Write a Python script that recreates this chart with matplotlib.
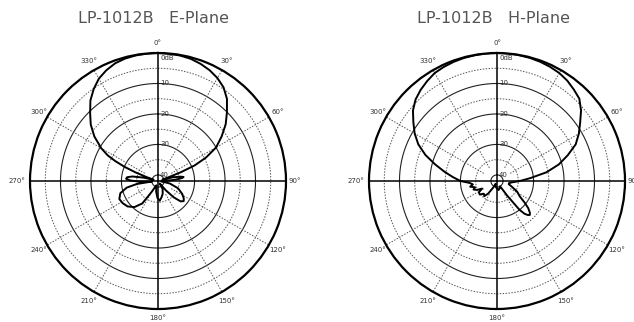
import numpy as np
import matplotlib
matplotlib.use("Agg")
import matplotlib.pyplot as plt
import matplotlib.transforms as mtransforms

# Radiation patterns (angle in degrees clockwise from boresight, relative level in dB)
e_theta = [0, 5, 10, 15, 20, 25, 30, 35, 40, 45, 50, 55, 60, 64, 67, 69, 71, 73,
           76, 79, 81, 83, 86, 90, 95, 102, 110, 118, 124, 128, 132, 136, 140, 145,
           150, 160, 168, 175, 182, 190, 200, 205, 210, 215, 222, 230, 238, 245,
           252, 258, 262, 265, 268, 271, 274, 277, 280, 283, 286, 289, 291, 293,
           295, 297, 300, 305, 310, 315, 320, 325, 330, 335, 340, 345, 350, 355, 360]
e_db = [0.0, -0.1, -0.2, -0.5, -1.1, -1.9, -3.0, -4.5, -6.8, -10.0, -13.0, -16.5,
        -20.0, -24.5, -29.0, -34.0, -39.0, -40.5,
        -37.0, -34.5, -33.5, -34.0, -36.5, -40.0, -41.0, -38.0, -35.0, -33.0, -31.8,
        -31.3, -32.0, -34.5, -38.0, -41.0,
        -39.0, -37.5, -36.5, -35.5, -36.5, -38.5, -40.5, -40.0, -38.0, -33.0, -30.5,
        -29.0, -28.3, -28.0,
        -29.0, -31.5, -35.0, -40.0, -36.0, -33.0, -31.5, -31.8, -33.5, -37.0, -40.5,
        -38.0, -34.0, -30.0,
        -26.5, -23.5, -20.5, -16.5, -13.2, -10.5, -7.5, -5.2, -3.2, -1.9, -0.9, -0.4,
        -0.15, -0.05, 0.0]

h_theta = [0, 5, 10, 15, 20, 25, 30, 35, 40, 45, 50, 55, 60, 65, 70, 75, 80, 85,
           90, 95, 100, 105, 111, 118, 124, 128, 131, 134, 136, 138, 140, 142, 145,
           150, 160, 170, 180, 190, 200, 205, 210, 215, 220, 226, 232, 238, 243,
           246, 250, 254, 258, 262, 266, 270, 275, 280, 285, 290, 295, 300, 305,
           310, 315, 320, 325, 330, 335, 340, 345, 350, 355, 360]
h_db = [0.0, 0.0, -0.1, -0.2, -0.4, -0.7, -1.1, -1.8, -2.8, -3.8, -6.0, -8.7,
        -11.0, -13.5, -17.3, -21.0, -25.5, -31.0,
        -34.5, -37.0, -38.0, -38.0, -36.8, -34.5, -33.0, -30.5, -28.4, -27.0, -26.5,
        -27.0, -28.0, -30.0, -36.0,
        -40.0, -39.5, -39.0, -39.5, -40.0, -40.5, -41.0, -39.5, -37.0, -35.5, -36.0,
        -34.8, -35.0, -36.5,
        -34.8, -33.8, -34.5, -33.0, -34.0, -33.0, -30.0, -27.5, -24.5, -21.0, -17.0,
        -13.5, -10.8, -8.5,
        -6.0, -4.2, -3.0, -2.0, -1.1, -0.7, -0.4, -0.2, -0.1, 0.0, 0.0]

titles = ["LP-1012B   E-Plane", "LP-1012B   H-Plane"]
angle_ticks = list(range(0, 360, 30))
angle_labels = [f"{a}\u00b0" for a in angle_ticks]
ring_solid = [-10, -20, -30, -40]
ring_dashed = [-5, -15, -25, -35]
ring_levels = [0, -10, -20, -30, -40]
ring_labels = ["0dB", "10", "20", "30", "40"]
r_min, r_max = -42, 0

W, H = 634, 322
fig = plt.figure(figsize=(W / 100, H / 100), dpi=100)

centers = [(158, 181), (497, 181)]
title_x = [153, 493]
radius = 128

full = np.linspace(0, 2 * np.pi, 361)

for k, (cx, cy) in enumerate(centers):
    ax = fig.add_axes([(cx - radius) / W, (H - cy - radius) / H,
                       2 * radius / W, 2 * radius / H], projection="polar")
    ax.set_theta_zero_location("N")
    ax.set_theta_direction(-1)
    ax.set_rlim(r_min, r_max)
    ax.grid(False)
    ax.set_yticks([])
    ax.set_xticks([])
    ax.spines["polar"].set_linewidth(1.6)
    ax.spines["polar"].set_color("black")

    # Concentric level rings
    for lv in ring_solid:
        ax.plot(full, np.full_like(full, lv), color="#222222", lw=0.8, zorder=2)
    for lv in ring_dashed:
        ax.plot(full, np.full_like(full, lv), color="#555555", lw=0.7,
                dashes=(1.5, 1.5), zorder=2)

    # Angular spokes
    for a in range(0, 360, 30):
        t = np.deg2rad(a)
        if a % 90 == 0:
            ax.plot([t, t], [r_min, r_max], color="black", lw=1.1, zorder=3)
        else:
            ax.plot([t, t], [-37, r_max], color="#555555", lw=0.7,
                    dashes=(1.5, 1.5), zorder=2)

    # Angle labels just outside the rim
    for a, lab in zip(angle_ticks, angle_labels):
        t = np.deg2rad(a)
        if a == 90:
            ax.text(t, 0.9, lab, fontsize=5, ha="left", va="center",
                    color="#333333", clip_on=False)
        elif a == 270:
            ax.text(t, 1.5, lab, fontsize=5, ha="right", va="center",
                    color="#333333", clip_on=False)
        else:
            rr = 2.9 if a == 180 else 3.3
            ax.text(t, rr, lab, fontsize=5, ha="center", va="center",
                    color="#333333", clip_on=False)

    # Level labels along the boresight spoke
    for lv, lab in zip(ring_levels, ring_labels):
        if lv == 0:
            tr = mtransforms.offset_copy(ax.transData, fig=fig, x=2, y=-1.5, units="points")
            va = "top"
        else:
            tr = mtransforms.offset_copy(ax.transData, fig=fig, x=1.5, y=0, units="points")
            va = "center"
        ax.text(0, lv, lab, transform=tr, fontsize=5, ha="left", va=va,
                color="#333333", zorder=4)

    th = e_theta if k == 0 else h_theta
    db = e_db if k == 0 else h_db
    ax.plot(np.deg2rad(th), db, color="black", lw=1.4, zorder=5)

    fig.text(title_x[k] / W, 1 - 18.5 / H, titles[k], fontsize=11.5, color="#555555",
             ha="center", va="center")

fig.savefig("out.png", dpi=100)
